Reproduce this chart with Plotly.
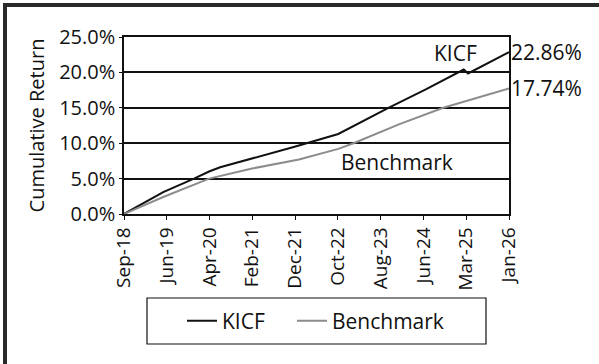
import plotly.graph_objects as go
import pandas as pd

# ---- data ----
kicf_dates = ["2018-09-01", "2019-06-01", "2020-01-01", "2020-04-15", "2020-07-01",
              "2021-02-01", "2021-12-01", "2022-10-01", "2023-09-15", "2024-06-01",
              "2025-01-15", "2025-02-20", "2025-03-22", "2026-01-01"]
kicf_values = [0.0, 3.1, 5.0, 6.0, 6.6,
               7.8, 9.5, 11.3, 15.0, 17.6,
               20.0, 20.4, 19.85, 22.86]

bench_dates = ["2018-09-01", "2019-06-01", "2020-04-15", "2021-02-01", "2022-01-01",
               "2022-10-01", "2023-01-15", "2023-12-01", "2024-10-01", "2025-03-01",
               "2026-01-01"]
bench_values = [0.0, 2.4, 5.0, 6.4, 7.7,
                9.2, 10.0, 12.7, 15.0, 15.9,
                17.74]

x_tick_labels = ["Sep-18", "Jun-19", "Apr-20", "Feb-21", "Dec-21",
                 "Oct-22", "Aug-23", "Jun-24", "Mar-25", "Jan-26"]
x_start, x_end = "2018-09-01", "2026-01-01"
y_ticks = [0, 5, 10, 15, 20, 25]
y_tick_labels = ["0.0%", "5.0%", "10.0%", "15.0%", "20.0%", "25.0%"]

# ---- layout geometry (pixels) ----
W, H = 599, 364
ML, MR, MT, MB = 124, 90, 37, 150
PW, PH = W - ML - MR, H - MT - MB


def px_x(p):
    return (p - ML) / PW


def px_y(p):
    return (H - MB - p) / PH


FONT = "Open Sans"
INK = "#111111"
tickvals = pd.date_range(x_start, x_end, periods=len(x_tick_labels))

fig = go.Figure()
fig.add_trace(go.Scatter(x=kicf_dates, y=kicf_values, mode="lines", name="KICF",
                         line=dict(color=INK, width=2), legend="legend"))
fig.add_trace(go.Scatter(x=bench_dates, y=bench_values, mode="lines", name="Benchmark",
                         line=dict(color="#8c8c8c", width=2), legend="legend2"))

# end-value labels
fig.add_annotation(x=kicf_dates[-1], y=kicf_values[-1], text=f"{kicf_values[-1]:.2f}%",
                   xanchor="left", yanchor="middle", showarrow=False, xshift=0,
                   font=dict(family=FONT, size=21, color=INK))
fig.add_annotation(x=bench_dates[-1], y=bench_values[-1], text=f"{bench_values[-1]:.2f}%",
                   xanchor="left", yanchor="middle", showarrow=False, xshift=0,
                   font=dict(family=FONT, size=21, color=INK))
# series labels
fig.add_annotation(x=px_x(455), y=px_y(53), xref="paper", yref="paper", text="KICF",
                   showarrow=False, xanchor="center", yanchor="middle",
                   font=dict(family=FONT, size=21, color=INK))
fig.add_annotation(x=px_x(397), y=px_y(162), xref="paper", yref="paper", text="Benchmark",
                   showarrow=False, xanchor="center", yanchor="middle",
                   font=dict(family=FONT, size=21, color=INK))

# outer frame (top & left) and legend box
fig.add_shape(type="line", xref="paper", yref="paper", x0=px_x(3), x1=px_x(W + 5),
              y0=px_y(5), y1=px_y(5), line=dict(color="#2a2a2a", width=4))
fig.add_shape(type="line", xref="paper", yref="paper", x0=px_x(5), x1=px_x(5),
              y0=px_y(3), y1=px_y(H + 5), line=dict(color="#2a2a2a", width=4))
fig.add_shape(type="rect", xref="paper", yref="paper", x0=px_x(147), x1=px_x(486),
              y0=px_y(298), y1=px_y(344), line=dict(color=INK, width=1.2))

legend_style = dict(orientation="h", yanchor="middle", xanchor="left",
                    font=dict(family=FONT, size=21, color=INK),
                    bgcolor="rgba(0,0,0,0)", borderwidth=0)

fig.update_layout(
    width=W, height=H,
    margin=dict(l=ML, r=MR, t=MT, b=MB, pad=0),
    paper_bgcolor="white", plot_bgcolor="white",
    font=dict(family=FONT, size=20, color=INK),
    showlegend=True,
    legend=dict(x=px_x(182), y=px_y(321), **legend_style),
    legend2=dict(x=px_x(292), y=px_y(321), **legend_style),
    xaxis=dict(type="date", range=[x_start, x_end], tickvals=tickvals, ticktext=x_tick_labels,
               tickangle=-90, ticks="outside", ticklen=4, tickcolor=INK,
               showgrid=False, showline=True, linecolor=INK, linewidth=1.5, mirror=True,
               tickfont=dict(family=FONT, size=19), zeroline=False),
    yaxis=dict(range=[0, 25], tickvals=y_ticks, ticktext=y_tick_labels,
               ticks="outside", ticklen=3, tickcolor=INK,
               showgrid=True, gridcolor=INK, gridwidth=1.6,
               showline=True, linecolor=INK, linewidth=1.5, mirror=True,
               zeroline=False, tickfont=dict(family=FONT, size=20),
               title=dict(text="Cumulative Return", standoff=9,
                          font=dict(family=FONT, size=20))),
)

fig.write_html("out.html")
